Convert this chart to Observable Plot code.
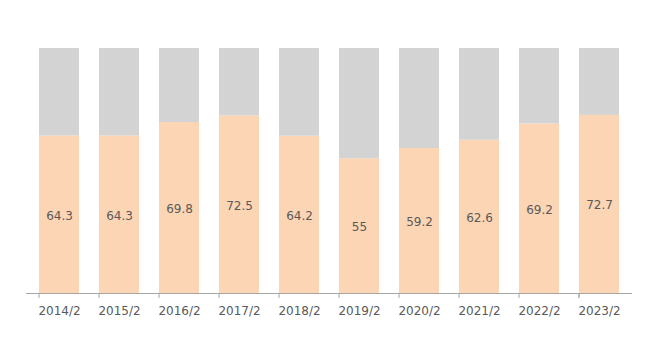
<!DOCTYPE html>
<html>
<head>
<meta charset="utf-8">
<script src="https://cdn.jsdelivr.net/npm/d3@7"></script>
<script src="https://cdn.jsdelivr.net/npm/@observablehq/plot@0.6"></script>
<style>
  html, body { margin: 0; padding: 0; background: #fff; }
  #chart svg { display: block; }
</style>
</head>
<body>
<div id="chart"></div>
<script>
const categories = ["2014/2","2015/2","2016/2","2017/2","2018/2","2019/2","2020/2","2021/2","2022/2","2023/2"];
const values = [64.3, 64.3, 69.8, 72.5, 64.2, 55, 59.2, 62.6, 69.2, 72.7];
const total = 100;

const rows = [];
categories.forEach((c, i) => {
  rows.push({cat: c, part: "value", v: values[i]});
  rows.push({cat: c, part: "rest", v: total - values[i]});
});
const labels = categories.map((c, i) => ({cat: c, v: values[i]}));

const W = 660, H = 360, mL = 26, mR = 28;
const step = (W - mL - mR) / categories.length;
const boundaries = categories.map((c) => ({cat: c, dx: -step / 2}))
  .concat([{cat: categories[categories.length - 1], dx: step / 2}]);

const chart = Plot.plot({
  width: W,
  height: H,
  marginLeft: mL,
  marginRight: mR,
  marginTop: 48,
  marginBottom: 67,
  style: {fontFamily: "DejaVu Sans, Verdana, sans-serif", fontSize: "12px", color: "#595959", background: "#fff"},
  x: {type: "band", domain: categories, paddingInner: 0.34, paddingOuter: 0.17, label: null, axis: null},
  y: {domain: [0, total], axis: null},
  color: {domain: ["value", "rest"], range: ["#FCD5B4", "#D3D3D3"]},
  marks: [
    Plot.barY(rows, Plot.stackY({x: "cat", y: "v", fill: "part", order: ["value", "rest"]})),
    Plot.ruleY([0], {stroke: "#A6A6A6", strokeWidth: 1}),
    Plot.ruleX(boundaries, {x: "cat", dx: (d) => d.dx, y1: 0, y2: -2, stroke: "#A6A6A6"}),
    Plot.text(labels, {x: "cat", y: (d) => d.v / 2, dy: 1, text: (d) => String(d.v), fill: "#595959", fontSize: 12}),
    Plot.text(categories, {x: (d) => d, y: 0, dy: 18, text: (d) => d, fill: "#595959", fontSize: 12})
  ]
});
document.getElementById("chart").appendChild(chart);
</script>
</body>
</html>
